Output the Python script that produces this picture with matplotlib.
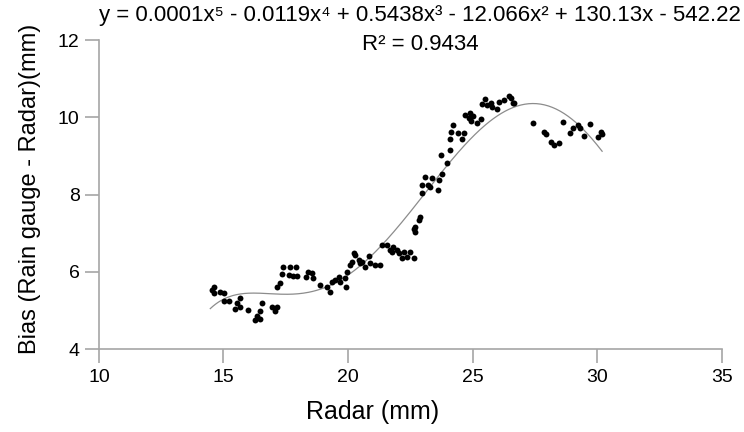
import numpy as np
import matplotlib
matplotlib.use("Agg")
import matplotlib.pyplot as plt

plt.rcParams['font.family'] = ['Liberation Sans', 'DejaVu Sans']

# valores (Radar mm, sesgo mm)
radar = [14.60, 14.53, 14.63, 14.84, 15.03, 15.03, 15.24, 15.54, 15.67, 15.67,
         15.47, 16.00, 16.54, 16.47, 16.34, 16.27, 16.47, 16.94, 17.07, 17.14,
         17.14, 17.27, 17.34, 17.38, 17.65, 17.92, 17.61, 17.81, 17.97,
         18.33, 18.41, 18.55, 18.61, 18.88, 19.15, 19.26, 19.35, 19.49, 19.62,
         19.69, 19.89, 19.93, 19.96, 20.06, 20.16, 20.22, 20.29, 20.42, 20.49,
         20.56, 20.69, 20.86, 20.89, 21.09, 21.29, 21.36, 21.56, 21.69,
         21.82, 21.76, 21.96, 22.03, 22.23, 22.50, 22.16, 22.37, 22.63,
         22.90, 22.83, 22.70, 22.70, 22.63,
         23.09, 23.37, 23.67, 23.77, 22.97, 23.23, 23.30, 22.97, 23.63,
         23.72, 23.97, 24.08,
         24.08, 24.13, 24.21, 24.40, 24.57, 24.67, 24.71, 24.88, 24.84, 24.94,
         25.02, 25.18, 25.34, 25.38, 25.51, 25.58, 25.74, 25.78, 25.98, 26.08,
         26.27, 26.45, 26.54, 26.62, 26.67,
         27.43, 27.88, 27.96, 28.15, 28.25, 28.45, 28.63, 28.92, 29.03, 29.22,
         29.30, 29.49, 29.70, 30.02, 30.16, 30.20]
bias = [5.61, 5.53, 5.46, 5.47, 5.44, 5.24, 5.25, 5.18, 5.31, 5.09,
        5.03, 5.01, 5.20, 4.99, 4.85, 4.75, 4.77, 5.09, 4.99, 5.09,
        5.61, 5.72, 5.94, 6.13, 6.13, 6.12, 5.92, 5.89, 5.89,
        5.87, 6.00, 5.96, 5.83, 5.66, 5.61, 5.48, 5.74, 5.79, 5.87,
        5.74, 5.83, 5.61, 6.00, 6.18, 6.26, 6.49, 6.43, 6.30, 6.22,
        6.26, 6.13, 6.41, 6.22, 6.18, 6.19, 6.69, 6.69, 6.56,
        6.65, 6.52, 6.56, 6.48, 6.52, 6.52, 6.35, 6.39, 6.37,
        7.41, 7.34, 7.17, 7.04, 7.10,
        8.45, 8.42, 8.38, 8.53, 8.25, 8.25, 8.19, 8.05, 8.12,
        9.02, 8.82, 9.15,
        9.44, 9.61, 9.80, 9.59, 9.43, 9.59, 10.06, 10.12, 9.98, 9.91,
        10.03, 9.85, 9.95, 10.34, 10.47, 10.32, 10.36, 10.28, 10.23, 10.40,
        10.45, 10.55, 10.49, 10.38, 10.36,
        9.86, 9.63, 9.57, 9.37, 9.28, 9.33, 9.89, 9.59, 9.72, 9.80,
        9.72, 9.52, 9.82, 9.50, 9.63, 9.57]

tend_x = [14.47, 15.0, 15.67, 16.74, 17.68, 18.5, 19.02, 19.96, 20.56, 21.29,
          22.0, 22.77, 23.71, 24.37, 25.04, 25.71, 26.38, 27.32, 28.25, 28.92,
          29.59, 30.20]
tend_y = [5.05, 5.28, 5.42, 5.47, 5.45, 5.47, 5.55, 5.85, 6.15, 6.69,
          7.22, 7.82, 8.54, 9.02, 9.50, 9.89, 10.19, 10.36, 10.24, 10.02,
          9.59, 9.11]

ecuacion = "y = 0.0001x\u2075 - 0.0119x\u2074 + 0.5438x\u00b3 - 12.066x\u00b2 + 130.13x - 542.22"
r2 = "R\u00b2 = 0.9434"

x = np.array(radar)
y = np.array(bias)

fig = plt.figure(figsize=(7.44, 4.32), dpi=100)
ax = fig.add_axes([0.133, 0.192, 0.837, 0.715])

# polinomio de grado 5 (como la linea de tendencia de Excel)
coef = np.polyfit(tend_x, tend_y, 5)
xs = np.linspace(min(tend_x), max(tend_x), 300)
ax.plot(xs, np.polyval(coef, xs), color='#8c8c8c', lw=0.9, zorder=1)

ax.scatter(x, y, s=18, color='black', zorder=2, linewidths=0)

ax.set_xlim(10, 35)
ax.set_ylim(4, 12)
ax.set_xticks([10, 15, 20, 25, 30, 35])
ax.set_yticks([4, 6, 8, 10, 12])

gris = '#a6a6a6'
for s in ['top', 'right']:
    ax.spines[s].set_visible(False)
for s in ['left', 'bottom']:
    ax.spines[s].set_color(gris)
    ax.spines[s].set_linewidth(1.2)
ax.tick_params(direction='out', length=10, width=1.2, color=gris,
               labelsize=14, pad=4)

ax.set_xlabel("Radar (mm)", fontsize=18)
ax.xaxis.set_label_coords(0.44, -0.165)
ax.set_ylabel("Bias (Rain gauge - Radar)(mm)", fontsize=17)
ax.yaxis.set_label_coords(-0.093, 0.52)

fig.text(0.565, 0.965, ecuacion, fontsize=16, ha='center', va='center')
fig.text(0.565, 0.898, r2, fontsize=16, ha='center', va='center')

fig.savefig("out.png", dpi=100)
